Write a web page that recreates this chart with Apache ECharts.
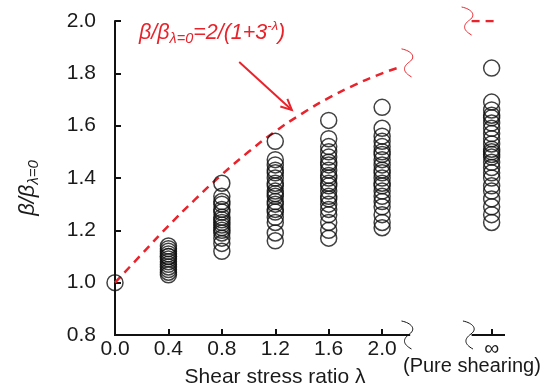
<!DOCTYPE html>
<html>
<head>
<meta charset="utf-8">
<script src="https://cdn.jsdelivr.net/npm/echarts@6/dist/echarts.min.js"></script>
<style>
  html, body { margin: 0; padding: 0; background: #fff; }
  #chart { width: 544px; height: 388px; }
</style>
</head>
<body>
<div id="chart"></div>
<script>
// x positions: 0.0 .. 2.0 plus a broken-axis slot for lambda = infinity
const xTicks = [0, 0.4, 0.8, 1.2, 1.6, 2.0];
const infX = 2.82;

// measured beta ratios per shear stress ratio
const ratioAt00 = [1.0];
const ratioAt04 = [1.14, 1.13, 1.12, 1.11, 1.1, 1.1, 1.09, 1.08, 1.07, 1.06, 1.05, 1.04, 1.03];
const ratioAt08 = [1.38, 1.33, 1.31, 1.3, 1.28, 1.27, 1.25, 1.24, 1.23, 1.22, 1.21, 1.2, 1.19, 1.17, 1.15, 1.12];
const ratioAt12 = [1.54, 1.47, 1.45, 1.43, 1.42, 1.4, 1.38, 1.37, 1.35, 1.34, 1.33, 1.31, 1.3, 1.28, 1.27, 1.25, 1.23, 1.19, 1.16];
const ratioAt16 = [1.62, 1.55, 1.52, 1.5, 1.48, 1.46, 1.45, 1.43, 1.41, 1.4, 1.38, 1.37, 1.35, 1.33, 1.32, 1.3, 1.28, 1.26, 1.23, 1.2, 1.17];
const ratioAt20 = [1.67, 1.59, 1.56, 1.54, 1.52, 1.5, 1.49, 1.47, 1.45, 1.43, 1.42, 1.4, 1.38, 1.37, 1.35, 1.33, 1.31, 1.29, 1.26, 1.23, 1.21];
const ratioAtInf = [1.82, 1.69, 1.66, 1.64, 1.63, 1.61, 1.59, 1.57, 1.55, 1.53, 1.51, 1.5, 1.49, 1.48, 1.46, 1.44, 1.42, 1.4, 1.37, 1.35, 1.32, 1.29, 1.26, 1.23];

// fitted curve
const curveX = [0, 0.2, 0.4, 0.6, 0.8, 1.0, 1.2, 1.4, 1.6, 1.8, 2.0, 2.12];
const curveY = [1.0, 1.109, 1.217, 1.318, 1.413, 1.5, 1.578, 1.646, 1.706, 1.757, 1.8, 1.821];
const asymX = [2.67, 2.86];
const asymY = [2.0, 2.0];

const FONT = 'Liberation Sans';
const RED = '#e8232b';

const columns = [
  [0, ratioAt00], [0.4, ratioAt04], [0.8, ratioAt08], [1.2, ratioAt12],
  [1.6, ratioAt16], [2.0, ratioAt20], [infX, ratioAtInf]
];
const points = [];
columns.forEach(([x, ys]) => ys.forEach((y) => points.push([x, y])));

const option = {
  animation: false,
  grid: { left: 115, right: 39, top: 21, bottom: 53 },
  xAxis: {
    type: 'value',
    min: 0,
    max: 2.92,
    axisLine: { show: false },
    splitLine: { show: false },
    axisTick: {
      inside: true,
      length: 6,
      customValues: xTicks.concat([infX]),
      lineStyle: { color: '#111', width: 2 }
    },
    axisLabel: {
      customValues: xTicks.concat([infX]),
      formatter: (v) => (Math.abs(v - infX) < 1e-6 ? '\u221e' : v.toFixed(1)),
      margin: 4,
      color: '#1a1a1a',
      fontFamily: FONT,
      fontSize: 21
    }
  },
  yAxis: {
    type: 'value',
    min: 0.8,
    max: 2.0,
    interval: 0.2,
    axisLine: { show: true, lineStyle: { color: '#111', width: 2 } },
    splitLine: { show: false },
    axisTick: { inside: true, length: 6, lineStyle: { color: '#111', width: 2 } },
    axisLabel: {
      formatter: (v) => v.toFixed(1),
      margin: 19,
      color: '#1a1a1a',
      fontFamily: FONT,
      fontSize: 21
    }
  },
  series: [
    {
      type: 'line',
      data: curveX.map((x, i) => [x, curveY[i]]),
      smooth: true,
      symbol: 'none',
      z: 1,
      lineStyle: { color: RED, width: 2.5, type: [8, 6] }
    },
    {
      type: 'line',
      data: asymX.map((x, i) => [x, asymY[i]]),
      symbol: 'none',
      z: 1,
      lineStyle: { color: RED, width: 2.5, type: [8, 6] }
    },
    {
      type: 'scatter',
      data: points,
      symbol: 'circle',
      symbolSize: 16,
      clip: false,
      z: 3,
      itemStyle: { color: 'rgba(0,0,0,0)', borderColor: '#111', borderWidth: 1.5 }
    }
  ]
};

const chart = echarts.init(document.getElementById('chart'));
chart.setOption(option);

const px = (x, y) => chart.convertToPixel({ gridIndex: 0 }, [x, y]);

// axis-break mark: two bezier halves forming an S
function squiggle(p, color) {
  const style = { fill: null, stroke: color, lineWidth: 1 };
  return {
    type: 'group', x: p[0], y: p[1], z: 10,
    children: [
      { type: 'bezierCurve', shape: { x1: -6, y1: -14, cpx1: 4, cpy1: -12, cpx2: 9, cpy2: -6, x2: 2, y2: -1 }, style },
      { type: 'bezierCurve', shape: { x1: 2, y1: -1, cpx1: -5, cpy1: 4, cpx2: -5, cpy2: 9, x2: 4, y2: 14 }, style }
    ]
  };
}

const axisA = [px(0, 0.8), px(2.21, 0.8)];
const axisB = [px(2.67, 0.8), px(2.92, 0.8)];
const arrowFrom = px(0.93, 1.843);
const arrowTo = px(1.324, 1.66);
const ang = Math.atan2(arrowTo[1] - arrowFrom[1], arrowTo[0] - arrowFrom[0]);
const headLen = 12;
const head = [
  [arrowTo[0] - headLen * Math.cos(ang - 0.45), arrowTo[1] - headLen * Math.sin(ang - 0.45)],
  arrowTo,
  [arrowTo[0] - headLen * Math.cos(ang + 0.45), arrowTo[1] - headLen * Math.sin(ang + 0.45)]
];

chart.setOption({
  graphic: [
    { type: 'line', shape: { x1: axisA[0][0] - 1, y1: axisA[0][1], x2: axisA[1][0], y2: axisA[1][1] }, style: { stroke: '#111', lineWidth: 2 } },
    { type: 'line', shape: { x1: axisB[0][0], y1: axisB[0][1], x2: axisB[1][0], y2: axisB[1][1] }, style: { stroke: '#111', lineWidth: 2 } },
    squiggle(px(2.19, 0.8), '#111'),
    squiggle(px(2.65, 0.8), '#111'),
    squiggle(px(2.19, 1.84), RED),
    squiggle(px(2.64, 2.0), RED),
    { type: 'line', shape: { x1: arrowFrom[0], y1: arrowFrom[1], x2: arrowTo[0], y2: arrowTo[1] }, style: { stroke: RED, lineWidth: 2 } },
    { type: 'polyline', shape: { points: head }, style: { fill: null, stroke: RED, lineWidth: 2 } },
    {
      type: 'text', x: 139, y: 33,
      style: {
        text: '{a|\u03b2/\u03b2}{s|\u03bb=0}{a|=2/(1+3}{p|-\u03bb}{a|)}',
        verticalAlign: 'middle',
        rich: {
          a: { fontFamily: FONT, fontSize: 21.5, fontStyle: 'italic', fill: RED, lineHeight: 26 },
          s: { fontFamily: FONT, fontSize: 14.5, fontStyle: 'italic', fill: RED, lineHeight: 26, verticalAlign: 'bottom', padding: [8, 0, 0, 0] },
          p: { fontFamily: FONT, fontSize: 13, fontStyle: 'italic', fill: RED, lineHeight: 26, verticalAlign: 'top', padding: [0, 0, 10, 0] }
        }
      }
    },
    {
      type: 'text', x: 28, y: 188, rotation: Math.PI / 2,
      style: {
        text: '{a|\u03b2/\u03b2}{s|\u03bb=0}',
        align: 'center', verticalAlign: 'middle',
        rich: {
          a: { fontFamily: FONT, fontSize: 22, fontStyle: 'italic', fill: '#1a1a1a', lineHeight: 26 },
          s: { fontFamily: FONT, fontSize: 15, fontStyle: 'italic', fill: '#1a1a1a', lineHeight: 26, verticalAlign: 'bottom', padding: [8, 0, 0, 0] }
        }
      }
    },
    {
      type: 'text', x: 275, y: 377,
      style: { text: 'Shear stress ratio \u03bb', fontFamily: FONT, fontSize: 21, fill: '#1a1a1a', align: 'center', verticalAlign: 'middle' }
    },
    {
      type: 'text', x: 403, y: 366,
      style: { text: '(Pure shearing)', fontFamily: FONT, fontSize: 20, fill: '#1a1a1a', align: 'left', verticalAlign: 'middle' }
    }
  ]
});
</script>
</body>
</html>
